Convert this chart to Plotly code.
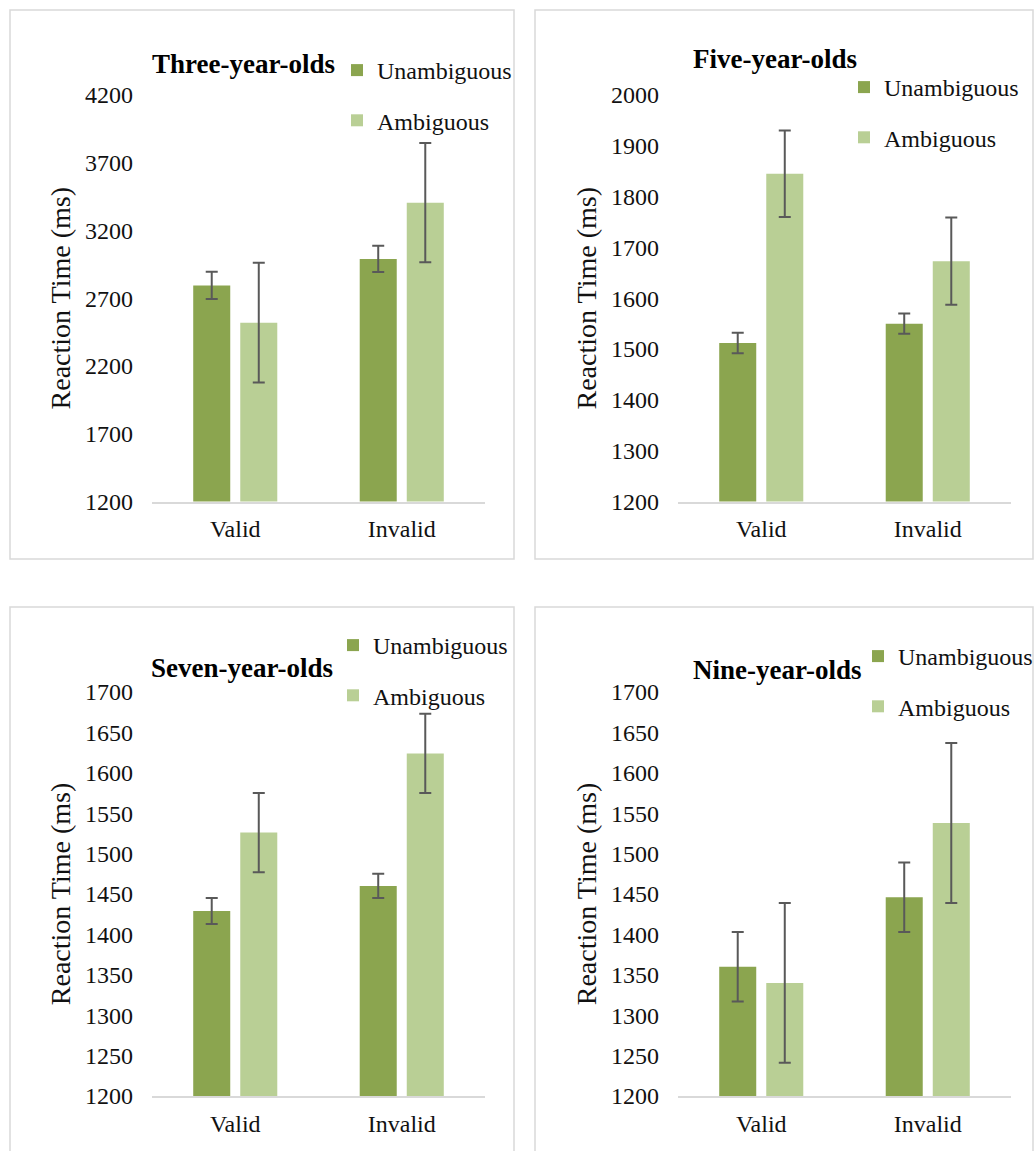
import plotly.graph_objects as go

# Reaction times (ms) by cue validity, per age group
conditions = ["Valid", "Invalid"]

three_unamb = [2795, 2990]
three_unamb_err = [100, 97]
three_amb = [2520, 3405]
three_amb_err = [442, 440]

five_unamb = [1512, 1550]
five_unamb_err = [20, 20]
five_amb = [1845, 1673]
five_amb_err = [85, 86]

seven_unamb = [1429, 1460]
seven_unamb_err = [16, 15]
seven_amb = [1526, 1624]
seven_amb_err = [49, 49]

nine_unamb = [1360, 1446]
nine_unamb_err = [43, 43]
nine_amb = [1340, 1538]
nine_amb_err = [99, 99]

panel_titles = ["Three-year-olds", "Five-year-olds", "Seven-year-olds", "Nine-year-olds"]
y_ranges = [[1200, 4200], [1200, 2000], [1200, 1700], [1200, 1700]]
y_dticks = [500, 100, 50, 50]

W, H = 1034, 1151
DARK = "#8BA54F"
LIGHT = "#B9CF95"
ERR = "#595959"
FONT = "Liberation Serif, Times New Roman, serif"


def px_x(v):
    return v / W


def px_y(v):
    return 1 - v / H


panels = [
    (three_unamb, three_unamb_err, three_amb, three_amb_err),
    (five_unamb, five_unamb_err, five_amb, five_amb_err),
    (seven_unamb, seven_unamb_err, seven_amb, seven_amb_err),
    (nine_unamb, nine_unamb_err, nine_amb, nine_amb_err),
]

# plot-area pixel boxes: (left, right, top, bottom)
boxes = [
    (152, 485, 95, 501.5),
    (678, 1011, 95, 501.5),
    (152, 485, 692, 1096),
    (678, 1011, 692, 1096),
]
# outer frame of each chart
frames = [
    (10, 514, 10, 559),
    (535, 1033, 10, 559),
    (10, 514, 607, 1170),
    (535, 1033, 607, 1170),
]
# title centres
title_pos = [(243, 64), (775, 59), (242, 668), (777, 670)]
# legend left edge / top
legend_pos = [(337, 48), (844, 65), (333, 623), (858, 634)]

fig = go.Figure()
layout = dict(
    width=W, height=H,
    margin=dict(l=0, r=0, t=0, b=0, autoexpand=False),
    paper_bgcolor="white", plot_bgcolor="white",
    barmode="group", bargap=0.435, bargroupgap=0.213,
    font=dict(family=FONT, size=24, color="#111111"),
    showlegend=True,
)

shapes = []
annotations = []
for i, (u, ue, a, ae) in enumerate(panels):
    n = "" if i == 0 else str(i + 1)
    xa, ya = "x" + n, "y" + n
    leg = "legend" + n
    fig.add_trace(go.Bar(
        x=conditions, y=u, name="Unambiguous", marker=dict(color=DARK, line=dict(width=0)),
        error_y=dict(type="data", array=ue, color=ERR, thickness=2, width=6),
        xaxis=xa, yaxis=ya, legend=leg, legendgroup="u" + str(i),
    ))
    fig.add_trace(go.Bar(
        x=conditions, y=a, name="Ambiguous", marker=dict(color=LIGHT, line=dict(width=0)),
        error_y=dict(type="data", array=ae, color=ERR, thickness=2, width=6),
        xaxis=xa, yaxis=ya, legend=leg, legendgroup="a" + str(i),
    ))
    l, r, t, b = boxes[i]
    layout["xaxis" + n] = dict(
        domain=[px_x(l), px_x(r)], anchor=ya,
        showline=True, linecolor="#D9D9D9", linewidth=1.5,
        showgrid=False, zeroline=False, ticks="",
        ticklabelstandoff=5,
        tickfont=dict(family=FONT, size=24, color="#111111"),
        fixedrange=True,
    )
    layout["yaxis" + n] = dict(
        domain=[px_y(b), px_y(t)], anchor=xa,
        range=y_ranges[i], dtick=y_dticks[i], tick0=1200,
        showline=False, showgrid=False, zeroline=False, ticks="",
        ticklabelstandoff=18,
        tickfont=dict(family=FONT, size=24, color="#111111"),
        title=dict(text="Reaction Time (ms)", font=dict(family=FONT, size=28, color="#111111"), standoff=6),
        fixedrange=True,
    )
    lx, ly = legend_pos[i]
    layout[leg] = dict(
        x=px_x(lx), y=px_y(ly), xanchor="left", yanchor="top",
        xref="paper", yref="paper",
        bgcolor="rgba(0,0,0,0)", borderwidth=0,
        font=dict(family=FONT, size=24, color="#111111"),
        tracegroupgap=16, itemclick=False, itemdoubleclick=False,
    )
    fl, fr, ft, fb = frames[i]
    shapes.append(dict(
        type="rect", xref="paper", yref="paper",
        x0=px_x(fl), x1=px_x(fr), y0=px_y(fb), y1=px_y(ft),
        line=dict(color="#D9D9D9", width=1.5), fillcolor="rgba(0,0,0,0)", layer="below",
    ))
    tx, ty = title_pos[i]
    annotations.append(dict(
        text="<b>" + panel_titles[i] + "</b>", xref="paper", yref="paper",
        x=px_x(tx), y=px_y(ty), xanchor="center", yanchor="middle", showarrow=False,
        font=dict(family=FONT, size=27, color="#000000"),
    ))

layout["shapes"] = shapes
layout["annotations"] = annotations
fig.update_layout(**layout)
fig.write_html("out.html")
